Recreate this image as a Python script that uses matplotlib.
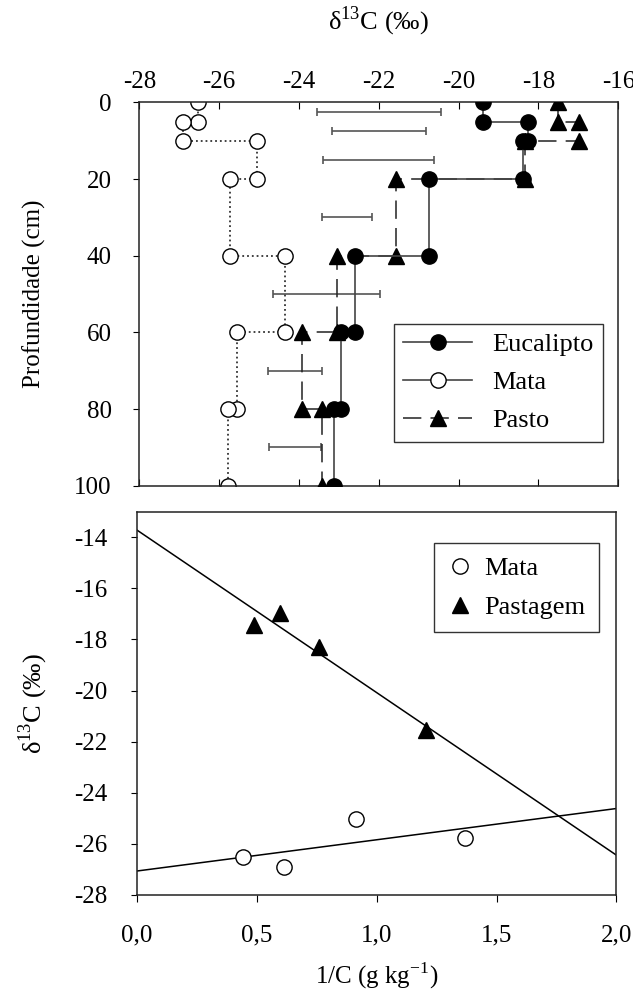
import numpy as np
import matplotlib
matplotlib.use('Agg')
from matplotlib import pyplot as plt
from matplotlib.lines import Line2D

plt.rcParams['font.family'] = ['Liberation Serif', 'DejaVu Serif']
plt.rcParams['mathtext.fontset'] = 'custom'
plt.rcParams['mathtext.rm'] = 'Liberation Serif'
plt.rcParams['font.size'] = 18
plt.rcParams['axes.unicode_minus'] = False

# perfil do solo: cada camada tem um valor, plotado no topo e na base
layer_top = [0, 5, 10, 20, 40, 60, 80]
layer_bottom = [5, 10, 20, 40, 60, 80, 100]
eucalipto = [-19.40, -18.26, -18.40, -20.75, -22.60, -22.94, -23.13]
mata = [-26.52, -26.90, -25.04, -25.73, -24.34, -25.56, -25.77]
pasto = [-17.52, -16.99, -18.35, -21.58, -23.06, -23.92, -23.43]

# barras de DMS entre as camadas
dms_depth = [2.5, 7.5, 15, 30, 50, 70, 90]
dms_center = [-22.00, -22.00, -22.00, -22.80, -23.31, -24.10, -24.10]
dms_half = [1.55, 1.17, 1.39, 0.62, 1.33, 0.67, 0.64]

# delta 13C x 1/C
mata_invc = [0.443, 0.612, 0.915, 1.370]
mata_d13c = [-26.50, -26.89, -25.02, -25.75]
pastagem_invc = [0.489, 0.598, 0.758, 1.205]
pastagem_d13c = [-17.45, -16.97, -18.30, -21.56]


def perfil(vals):
    x = np.repeat(vals, 2)
    y = np.column_stack([layer_top, layer_bottom]).ravel()
    return x, y


DASH = (0, (12, 6))

fig = plt.figure(figsize=(6.33, 9.94), dpi=100)
ax1 = fig.add_axes([0.2201, 0.5114, 0.7567, 0.3855])
ax2 = fig.add_axes([0.2164, 0.0996, 0.7575, 0.3856])

# --- painel superior ---
ax1.errorbar(dms_center, dms_depth, xerr=dms_half, fmt='none', ecolor='#555555',
             elinewidth=1.2, capsize=3, capthick=1.2, zorder=1)

x, y = perfil(mata)
ax1.plot(x, y, color='#333333', ls=':', lw=1.3, marker='o', ms=11,
         mfc='white', mec='black', mew=1, zorder=2)
x, y = perfil(pasto)
ax1.plot(x, y, color='#222222', ls=DASH, lw=1.1, marker='^', ms=12,
         mfc='black', mec='black', zorder=3)
x, y = perfil(eucalipto)
ax1.plot(x, y, color='#444444', ls='-', lw=1.2, marker='o', ms=11,
         mfc='black', mec='black', zorder=4)

ax1.set_xlim(-28, -16)
ax1.set_ylim(100, 0)
ax1.set_xticks(np.arange(-28, -15, 2))
ax1.set_yticks(np.arange(0, 101, 20))
ax1.xaxis.tick_top()
ax1.xaxis.set_label_position('top')
ax1.tick_params(axis='x', top=True, bottom=True, direction='in', length=5,
                labeltop=True, labelbottom=False, pad=7)
ax1.tick_params(axis='y', left=True, right=False, direction='out', length=4, pad=16)
ax1.set_xlabel('δ$^{13}$C (‰)', labelpad=30, fontsize=19)
ax1.set_ylabel('Profundidade (cm)', labelpad=20, fontsize=18)

handles = [
    Line2D([], [], color='#444444', ls='-', lw=1.2, marker='o', ms=11, mfc='black', mec='black'),
    Line2D([], [], color='#444444', ls='-', lw=1.2, marker='o', ms=11, mfc='white', mec='black'),
    Line2D([], [], color='#222222', ls=DASH, lw=1.1, marker='^', ms=12, mfc='black', mec='black'),
]
leg = ax1.legend(handles, ['Eucalipto', 'Mata', 'Pasto'], loc='lower right',
                 bbox_to_anchor=(0.967, 0.115), borderaxespad=0, frameon=True,
                 fancybox=False, edgecolor='black', fontsize=19, handlelength=2.6,
                 handletextpad=0.76, labelspacing=0.55, borderpad=0.35)
leg.get_frame().set_linewidth(1)

# --- painel inferior ---
ax2.plot(mata_invc, mata_d13c, ls='none', marker='o', ms=11, mfc='white',
         mec='black', mew=1, label='Mata', zorder=3)
ax2.plot(pastagem_invc, pastagem_d13c, ls='none', marker='^', ms=12,
         mfc='black', mec='black', label='Pastagem', zorder=3)

xl = np.array([0, 2.0])
for xs, ys in [(mata_invc, mata_d13c), (pastagem_invc, pastagem_d13c)]:
    b, a = np.polyfit(xs, ys, 1)
    ax2.plot(xl, a + b * xl, color='black', lw=1.1, zorder=2)

ax2.set_xlim(0, 2.0)
ax2.set_ylim(-28, -13)
ax2.set_xticks(np.arange(0, 2.01, 0.5))
ax2.set_xticklabels([f'{v:.1f}'.replace('.', ',') for v in np.arange(0, 2.01, 0.5)])
ax2.set_yticks(np.arange(-28, -13, 2))
ax2.tick_params(axis='x', direction='out', length=5, pad=16)
ax2.tick_params(axis='y', direction='out', length=4, pad=17)
ax2.set_xlabel('1/C (g kg$^{-1}$)', labelpad=10, fontsize=18)
ax2.set_ylabel('δ$^{13}$C (‰)', labelpad=18, fontsize=19)

leg2 = ax2.legend(loc='upper right', bbox_to_anchor=(0.963, 0.918), borderaxespad=0,
                  frameon=True, fancybox=False, edgecolor='black', fontsize=19,
                  handlelength=1.0, handletextpad=0.42, labelspacing=0.6, borderpad=0.5)
leg2.get_frame().set_linewidth(1)

for ax in (ax1, ax2):
    for s in ax.spines.values():
        s.set_linewidth(1.1)
        s.set_color('#222222')

fig.savefig('out.png', dpi=100)
